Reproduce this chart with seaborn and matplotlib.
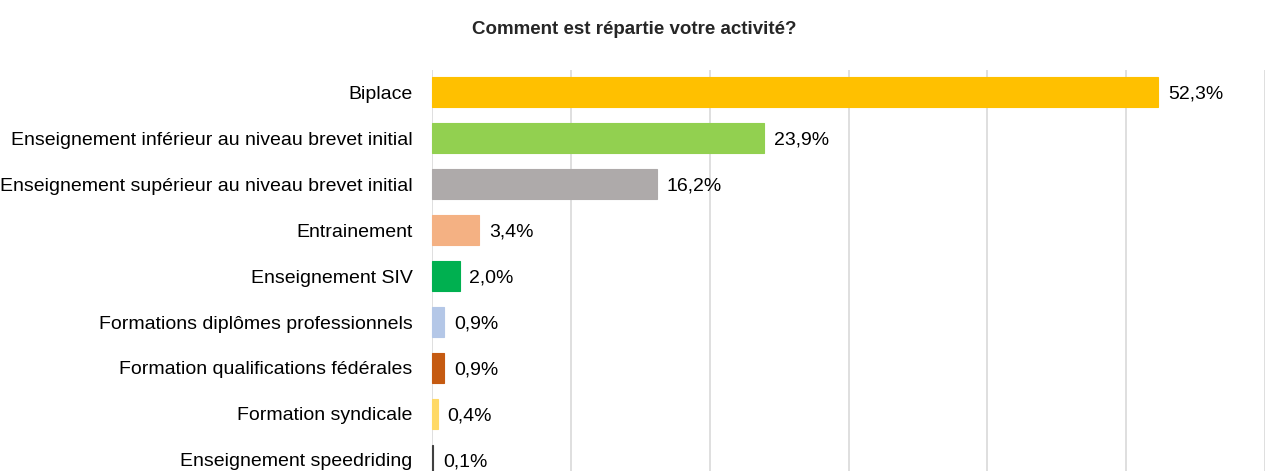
import pandas as pd
import seaborn as sns
import matplotlib.pyplot as plt

categories = [
    "Biplace",
    "Enseignement inférieur au niveau brevet initial",
    "Enseignement supérieur au niveau brevet initial",
    "Entrainement",
    "Enseignement SIV",
    "Formations diplômes professionnels",
    "Formation qualifications fédérales",
    "Formation syndicale",
    "Enseignement speedriding",
]
values = [52.3, 23.9, 16.2, 3.4, 2.0, 0.9, 0.9, 0.4, 0.1]
value_labels = ["52,3%", "23,9%", "16,2%", "3,4%", "2,0%", "0,9%", "0,9%", "0,4%", "0,1%"]
colors = ["#FFC000", "#92D050", "#AEAAAA", "#F4B183", "#00B050",
          "#B4C7E7", "#C55A11", "#FFD966", "#404040"]

df = pd.DataFrame({"activite": categories, "part": values})

sns.set_style("white")
plt.rcParams["font.family"] = ["Liberation Sans", "DejaVu Sans"]

fig = plt.figure(figsize=(12.68, 4.71), dpi=100)
ax = fig.add_axes([432 / 1268, 0.0, 833 / 1268, 1 - 70 / 471])

sns.barplot(data=df, y="activite", x="part", hue="activite", palette=colors,
            orient="h", width=0.65, saturation=1, legend=False, ax=ax)

# thin bars (0,1 %) would vanish otherwise: outline each bar in its own colour
for p in ax.patches:
    p.set_edgecolor(p.get_facecolor())
    p.set_linewidth(0.8)
    p.set_clip_on(False)

ax.set_xlim(0, 60)
ax.set_ylim(8.24, -0.48)
ax.set_xticks(range(0, 61, 10))
ax.set_xticklabels([])
ax.xaxis.grid(True, color="#D9D9D9", linewidth=1.2)
ax.set_axisbelow(True)
for s in ax.spines.values():
    s.set_visible(False)
ax.tick_params(axis="both", length=0)
ax.tick_params(axis="y", pad=14, labelsize=14, labelcolor="#000000")
ax.set_xlabel("")
ax.set_ylabel("")

for i, (v, lab) in enumerate(zip(values, value_labels)):
    ax.text(v + 0.7, i, lab, va="center_baseline", ha="left", fontsize=14, color="#000000")

fig.suptitle("Comment est répartie votre activité?", y=1 - 30 / 471,
             va="center", fontsize=13.5, fontweight="bold")

fig.savefig("out.png", dpi=100)
